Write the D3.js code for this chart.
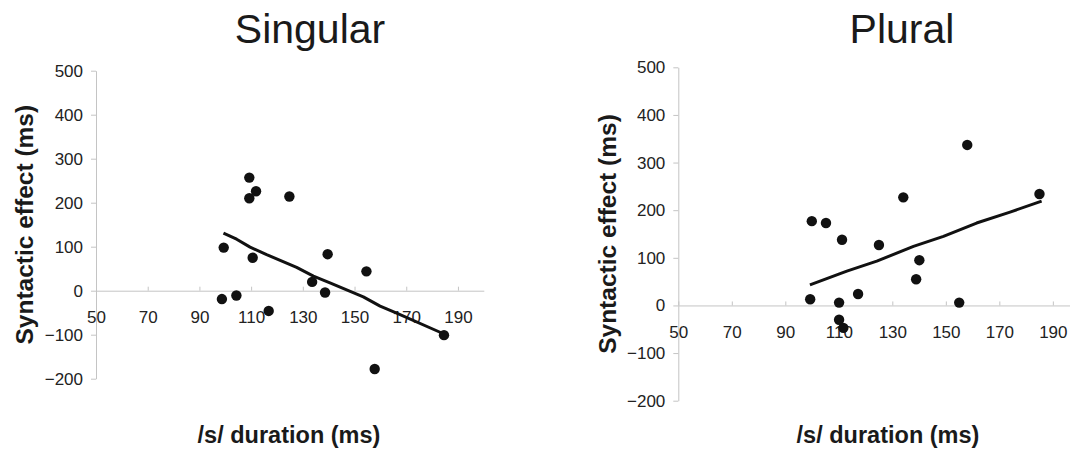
<!DOCTYPE html>
<html>
<head>
<meta charset="utf-8">
<script src="https://cdn.jsdelivr.net/npm/d3@7"></script>
<style>
  html, body { margin: 0; padding: 0; background: #fff; }
  svg { display: block; font-family: "Liberation Sans", Arial, sans-serif; }
</style>
</head>
<body>
<svg id="chart" width="1070" height="454"></svg>
<script>
// ---- data ----
const xTicks = [50, 70, 90, 110, 130, 150, 170, 190];
const yTicks = [-200, -100, 0, 100, 200, 300, 400, 500];

const singularX = [109.3, 111.9, 109.3, 124.8, 99.4, 110.6, 139.6, 154.6, 133.6, 138.6, 98.7, 104.3, 116.8, 184.6, 157.8];
const singularY = [257, 226, 210, 214, 98, 75, 83, 44, 20, -4, -19, -11, -46, -101, -178];
const singularTrendX = [99.3, 104.4, 109.6, 116.0, 127.6, 134.1, 140.5, 153.4, 159.9, 166.3, 183.3];
const singularTrendY = [131, 117, 99, 82, 53, 33, 18, -14, -35, -51, -95];

const pluralX = [158.0, 185.0, 134.1, 99.9, 105.2, 111.2, 125.0, 140.1, 138.9, 117.2, 99.3, 110.1, 155.0, 110.1, 111.7];
const pluralY = [337, 234, 227, 177, 173, 138, 127, 95, 55, 24, 13, 6, 6, -30, -47];
const pluralTrendX = [99.2, 113.0, 124.2, 137.9, 149.1, 161.5, 174.0, 185.8];
const pluralTrendY = [43, 72, 93, 124, 145, 173, 196, 219];

const titles = ["Singular", "Plural"];
const yLabel = "Syntactic effect (ms)";
const xLabel = "/s/ duration (ms)";

// ---- drawing ----
const svg = d3.select("#chart");
const FONT = '"Liberation Sans", Arial, sans-serif';
const AXIS_COLOR = "#c4c4c4";

const panels = [
  { title: titles[0], xs: singularX, ys: singularY, tx: singularTrendX, ty: singularTrendY,
    x0: 96, x1: 483.8, yTop: 70.7, yBot: 378.7, titleX: 310, yLabX: 33, xLabX: 289 },
  { title: titles[1], xs: pluralX, ys: pluralY, tx: pluralTrendX, ty: pluralTrendY,
    x0: 678.3, x1: 1079.6, yTop: 67.3, yBot: 400.7, titleX: 902, yLabX: 616, xLabX: 888 }
];

panels.forEach(p => {
  const x = d3.scaleLinear().domain([50, 200]).range([p.x0, p.x1]);
  const y = d3.scaleLinear().domain([-200, 500]).range([p.yBot, p.yTop]);
  const g = svg.append("g");

  // y axis
  const ya = g.append("g").attr("transform", `translate(${p.x0},0)`)
    .call(d3.axisLeft(y).tickValues(yTicks).tickSize(5).tickSizeOuter(0).tickPadding(8));
  ya.select(".domain").attr("stroke", AXIS_COLOR);
  ya.selectAll(".tick line").attr("stroke", AXIS_COLOR);
  ya.selectAll(".tick text").attr("font-size", 17).attr("font-family", FONT).attr("fill", "#222");

  // x axis at y = 0
  const xa = g.append("g").attr("transform", `translate(0,${y(0)})`)
    .call(d3.axisBottom(x).tickValues(xTicks).tickSizeInner(-4).tickSizeOuter(0).tickPadding(20));
  xa.select(".domain").attr("stroke", AXIS_COLOR);
  xa.selectAll(".tick line").attr("stroke", AXIS_COLOR);
  xa.selectAll(".tick text").attr("font-size", 17).attr("font-family", FONT).attr("fill", "#222");

  // trend line
  const line = d3.line().x(d => x(d[0])).y(d => y(d[1]));
  g.append("path")
    .datum(p.tx.map((v, i) => [v, p.ty[i]]))
    .attr("d", line)
    .attr("fill", "none")
    .attr("stroke", "#111")
    .attr("stroke-width", 3)
    .attr("stroke-linejoin", "round");

  // points
  g.selectAll("circle.pt")
    .data(p.xs.map((v, i) => [v, p.ys[i]]))
    .join("circle")
    .attr("class", "pt")
    .attr("cx", d => x(d[0]))
    .attr("cy", d => y(d[1]))
    .attr("r", 5.2)
    .attr("fill", "#111");

  // title
  g.append("text")
    .attr("x", p.titleX).attr("y", 43)
    .attr("text-anchor", "middle")
    .attr("font-size", 41).attr("font-family", FONT).attr("fill", "#1a1a1a")
    .text(p.title);

  // y label
  g.append("text")
    .attr("transform", `translate(${p.yLabX},${(p.yTop + p.yBot) / 2}) rotate(-90)`)
    .attr("text-anchor", "middle")
    .attr("font-size", 24.5).attr("font-weight", "bold").attr("font-family", FONT).attr("fill", "#1a1a1a")
    .text(yLabel);

  // x label
  g.append("text")
    .attr("x", p.xLabX).attr("y", 443)
    .attr("text-anchor", "middle")
    .attr("font-size", 23.5).attr("font-weight", "bold").attr("font-family", FONT).attr("fill", "#1a1a1a")
    .text(xLabel);
});
</script>
</body>
</html>
